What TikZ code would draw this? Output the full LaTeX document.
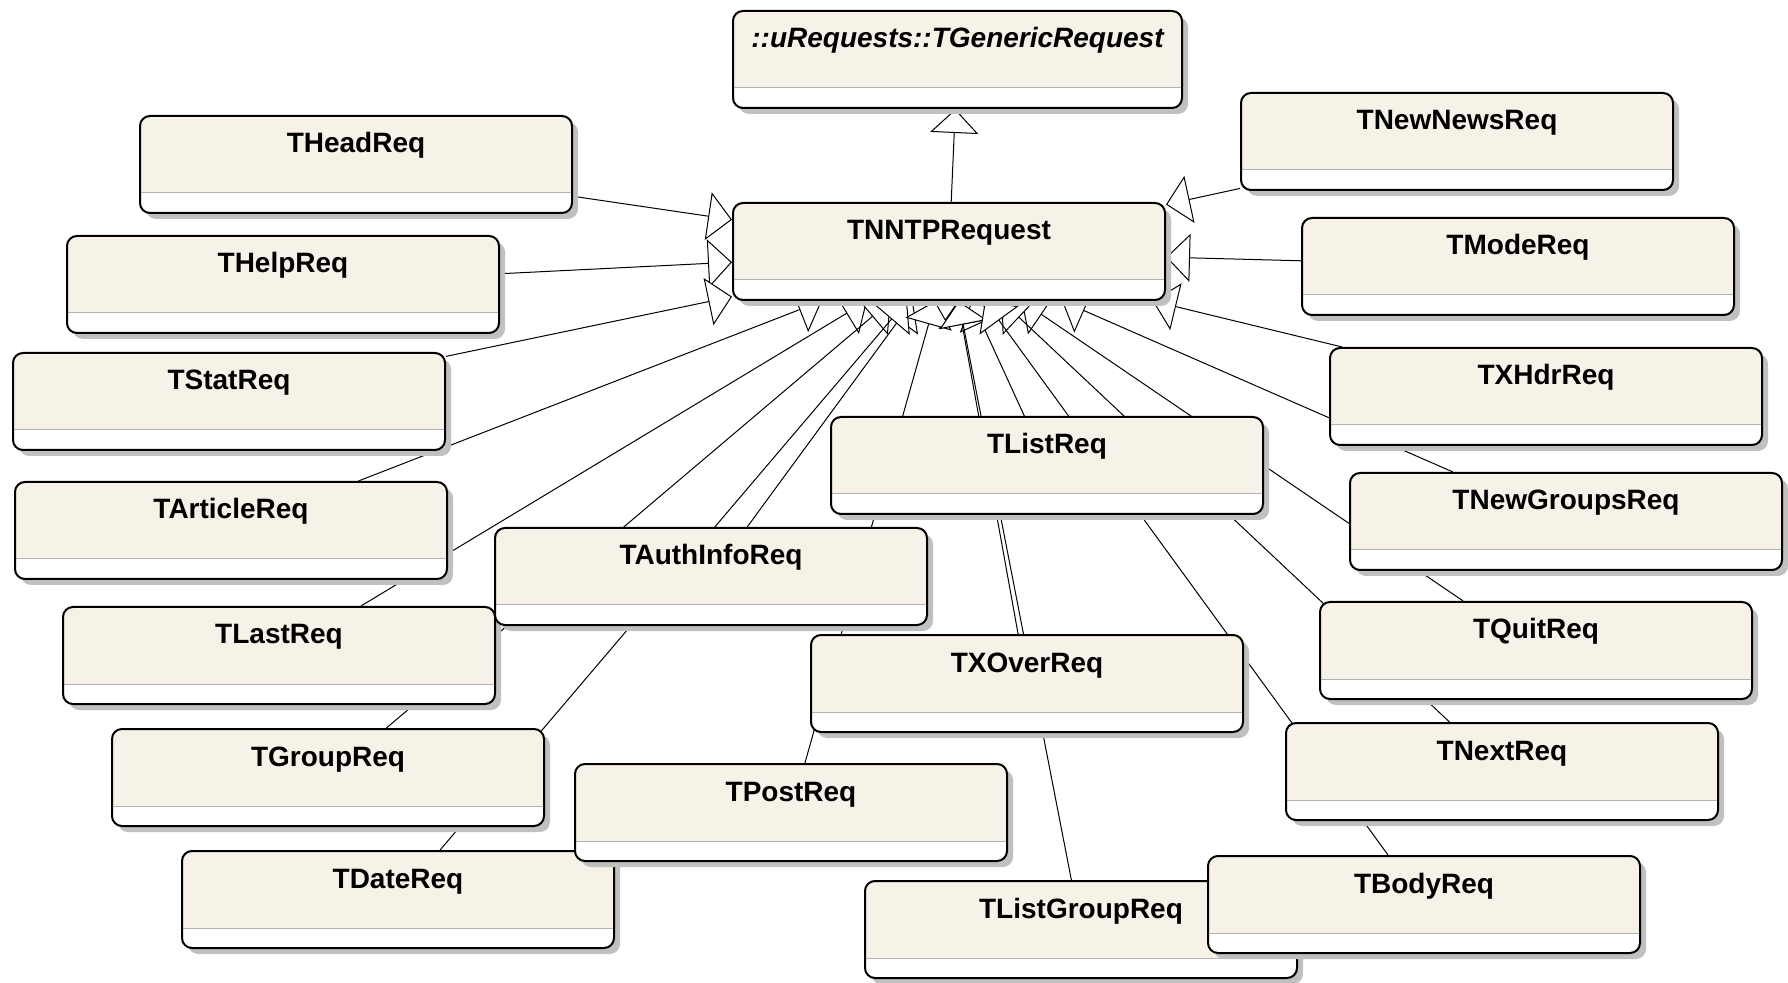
\documentclass[tikz,border=0pt]{standalone}
\usepackage{fontspec}
\newfontfamily\umlfont{Liberation Sans}
\usetikzlibrary{arrows.meta,shadows}
\pgfdeclarelayer{back}
\pgfsetlayers{back,main}
\definecolor{classfill}{RGB}{246,242,232}
\definecolor{shadowgray}{RGB}{192,192,192}

\begin{document}
\begin{tikzpicture}[x=0.5pt,y=-0.5pt]
	\tikzset{classbox/.style={draw, line width=1pt, fill=classfill, rounded corners=5pt,
			minimum width=216pt, minimum height=48.5pt, inner sep=0pt, text height=18.5pt, text depth=30pt,
			font=\umlfont\bfseries\fontsize{14}{16}\selectfont,
			drop shadow={shadow xshift=3pt, shadow yshift=-3pt, fill=shadowgray, opacity=1},
			path picture={\fill[white, sharp corners] (path picture bounding box.south west) rectangle ([yshift=10pt]path picture bounding box.south east);
				\draw[black!30, line width=0.5pt, sharp corners] ([yshift=10pt]path picture bounding box.south west) -- ([yshift=10pt]path picture bounding box.south east);}},
		inherits/.style={-{Triangle[length=12pt,width=24pt,fill=white]}, line width=0.5pt}}
	\useasboundingbox (0,0) rectangle (1788,983);
	\node[classbox, minimum width=224.5pt, font=\umlfont\bfseries\itshape\fontsize{14}{16}\selectfont] (generic) at (957.5,59.5) {::uRequests::TGenericRequest};
	\node[classbox] (nntp) at (949,251.5) {TNNTPRequest};
	\node[classbox] (head) at (356,164.5) {THeadReq};
	\node[classbox] (newnews) at (1457,141.5) {TNewNewsReq};
	\node[classbox] (help) at (283,284.5) {THelpReq};
	\node[classbox] (mode) at (1518,266.5) {TModeReq};
	\node[classbox] (stat) at (229,401.5) {TStatReq};
	\node[classbox] (xhdr) at (1546,396.5) {TXHdrReq};
	\node[classbox] (list) at (1047,465.5) {TListReq};
	\node[classbox] (article) at (231,530.5) {TArticleReq};
	\node[classbox] (newgroups) at (1566,521.5) {TNewGroupsReq};
	\node[classbox] (last) at (279,655.5) {TLastReq};
	\node[classbox] (authinfo) at (711,576.5) {TAuthInfoReq};
	\node[classbox] (quit) at (1536,650.5) {TQuitReq};
	\node[classbox] (xover) at (1027,683.5) {TXOverReq};
	\node[classbox] (group) at (328,777.5) {TGroupReq};
	\node[classbox] (next) at (1502,771.5) {TNextReq};
	\node[classbox] (date) at (398,899.5) {TDateReq};
	\node[classbox] (post) at (791,812.5) {TPostReq};
	\node[classbox] (listgroup) at (1081,929.5) {TListGroupReq};
	\node[classbox] (body) at (1424,904.5) {TBodyReq};
	\begin{pgfonlayer}{back}
		\foreach \sub in {head,newnews,help,mode,stat,xhdr,list,article,newgroups,last,authinfo,quit,xover,group,next,date,post,listgroup,body}
			\draw[inherits] (\sub) -- (nntp);
		\draw[inherits] (nntp) -- (generic);
	\end{pgfonlayer}
\end{tikzpicture}
\end{document}
